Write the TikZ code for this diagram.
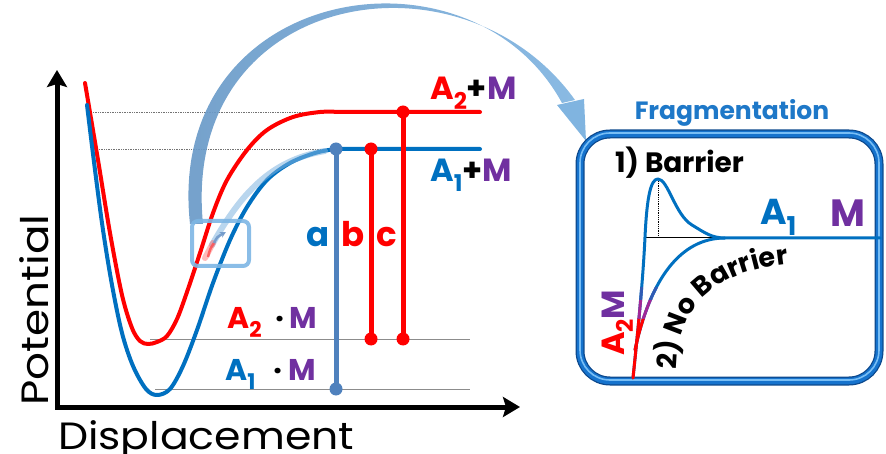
\documentclass[tikz,border=0pt]{standalone}
\usepackage{fontspec}
\setmainfont{Poppins}
\usetikzlibrary{arrows.meta,decorations.text}
\definecolor{cred}{RGB}{255,0,0}
\definecolor{cblue}{RGB}{0,112,192}
\definecolor{csteel}{RGB}{79,129,189}
\definecolor{cpurple}{RGB}{112,48,160}
\definecolor{carcA}{RGB}{104,152,198}
\definecolor{carcB}{RGB}{128,180,224}
\definecolor{csmall}{RGB}{125,182,228}
\definecolor{cframe}{RGB}{22,115,205}
\definecolor{cframedark}{RGB}{12,72,140}
\definecolor{cframelight}{RGB}{120,190,245}
\definecolor{ctitle}{RGB}{30,120,200}
\definecolor{cmix}{RGB}{160,40,150}
\newcommand\fsz[1]{\fontsize{#1}{#1}\selectfont}
\newcommand\nbfont{\bfseries\fontsize{27}{27}\selectfont}
\newcommand\lowsub[1]{\raisebox{-0.3em}{\scalebox{0.72}{#1}}}
\tikzset{
  pcurve/.style={line width=4pt, line join=round, line cap=round},
  level/.style={black!45, line width=0.9pt},
  guide/.style={black!55, line width=0.7pt, densely dotted},
  trans/.style={line width=5pt},
  dotend/.style={radius=6.5},
  lbl/.style={font=\bfseries\fsz{32}, inner sep=0pt},
  boxcurve/.style={line width=3pt, line cap=round, line join=round},
}
\begin{document}
\begin{tikzpicture}[x=1pt,y=-1pt]
\useasboundingbox (0,0) rectangle (886,454);

% guides and levels
\draw[guide] (93,112) -- (320,112);
\draw[guide] (99,149) -- (336,149);
\draw[level] (150,339) -- (470,339);
\draw[level] (155,389) -- (470,389);

% big curved arrow
\shade[left color=carcA, right color=carcB, opacity=0.92]
  (190,224) .. controls (164,-16) and (470,-66) .. (562,103)
  -- (575,100) .. controls (462,-58) and (180,-10) .. (203,224) -- cycle;
\fill[carcB] (557,105) -- (584,99) -- (586,141) -- cycle;

% potential curves
\draw[cred, pcurve] plot[smooth, tension=0.55] coordinates {(85,83) (98,160) (110,233) (122,295) (132,328) (140,341) (148,344) (157,342) (167,336) (177,319) (187,292) (200,253) (213,213) (227,180) (247,150) (267,130) (293,117) (320,112) (340,112)} -- (480,112);
\draw[cblue, pcurve] plot[smooth, tension=0.55] coordinates {(87,105) (95,170) (103,230) (112,285) (122,333) (133,366) (146,389) (157,395) (170,389) (183,366) (197,330) (213,283) (230,240) (247,207) (267,180) (290,163) (315,153) (336,149) (350,149)} -- (480,149);

% ghost band and small box
\draw[carcB, opacity=0.55, line width=6pt, line cap=round] (212,245) .. controls (240,195) and (270,160) .. (325,151);
\draw[cred!60, opacity=0.45, line width=6pt, line cap=round] (205,258) -- (213,243);
\draw[csmall, line width=4pt, rounded corners=6pt, opacity=0.9] (192,221) rectangle (249,266);
\draw[cred!70, opacity=0.8, line width=2.5pt] (208,257) .. controls (210,249) .. (214,243);
\draw[csteel!80, opacity=0.9, line width=2.5pt, -{Stealth[length=6pt,width=6pt]}] (214,243) .. controls (217,237) .. (226,232);

% axes
\coordinate (yT) at (57,70);
\coordinate (O) at (57,407);
\coordinate (xT) at (520,407);
\draw[line width=5pt, {Stealth[length=17pt,width=20pt,inset=3pt]}-{Stealth[length=17pt,width=20pt,inset=3pt]}] (yT) -- (O) -- (xT);
\node[inner sep=0pt, anchor=base west, rotate=90] (ylab) at (48,406) {\fsz{38}\scalebox{1.15}[1]{Potential}};
\node[inner sep=0pt, anchor=base west] (xlab) at (58,449) {\fsz{38}\scalebox{1.12}[1]{Displacement}};

% transitions a, b, c
\coordinate (aT) at (336,149); \coordinate (aB) at (336,389);
\coordinate (bT) at (371,149); \coordinate (bB) at (371,339);
\coordinate (cT) at (403,112); \coordinate (cB) at (403,339);
\draw[csteel, trans] (aT) -- (aB);
\draw[cred, trans] (bT) -- (bB);
\draw[cred, trans] (cT) -- (cB);
\fill[csteel] (aT) circle[dotend]; \fill[csteel] (aB) circle[dotend];
\fill[cred] (bT) circle[dotend]; \fill[cred] (bB) circle[dotend];
\fill[cred] (cT) circle[dotend]; \fill[cred] (cB) circle[dotend];
\node[lbl, text=cblue, anchor=base] (la) at (318,247) {\fsz{34}a};
\node[lbl, text=cred, anchor=base] (lb) at (353,247) {\fsz{34}b};
\node[lbl, text=cred, anchor=base] (lc) at (387,247) {\fsz{34}c};

% state labels
\node[lbl, anchor=base west] (a2m) at (430,100) {\textcolor{cred}{A\lowsub{2}}+\textcolor{cpurple}{M}};
\node[lbl, anchor=base west] (a1m) at (430,182) {\textcolor{cblue}{A\lowsub{1}}+\textcolor{cpurple}{M}};
\node[lbl, anchor=base west, text=cred] (a2dA) at (227,328) {\fsz{30}A\lowsub{2}};
\node[lbl, anchor=base] (a2dD) at (280,328) {\fsz{30}·};
\node[lbl, anchor=base west, text=cpurple] (a2dM) at (289,328) {\fsz{30}M};
\node[lbl, anchor=base west, text=cblue] (a1dA) at (225,380) {\fsz{30}A\lowsub{1}};
\node[lbl, anchor=base] (a1dD) at (278,380) {\fsz{30}·};
\node[lbl, anchor=base west, text=cpurple] (a1dM) at (288,380) {\fsz{30}M};

% fragmentation panel
\node[lbl, text=ctitle, anchor=base] (ftitle) at (732,120) {\fsz{25}Fragmentation};
\draw[cframedark, line width=9pt, rounded corners=30pt] (580,134) rectangle (879,381);
\draw[cframe, line width=6.5pt, rounded corners=30pt] (580,134) rectangle (879,381);
\draw[cframelight, line width=1.6pt, rounded corners=30pt] (580,133) rectangle (879,380);

\node[lbl, anchor=base west] (barrier) at (615,173) {\fsz{28}1) Barrier};
\draw[black, line width=1pt] (645,238) -- (723,238);
\draw[black, line width=0.8pt, densely dotted] (658,181) -- (658,238);

\def\barpath{(633,378) .. controls (638,330) and (643,280) .. (645,237) .. controls (647,195) and (651,179) .. (658,179) .. controls (668,179) and (675,215) .. (692,225) .. controls (705,233) and (712,238) .. (725,238) -- (880,238)}
\def\nobarpath{(635,350) .. controls (650,280) and (680,238) .. (725,238)}
\draw[cblue, boxcurve] \barpath;
\draw[cblue, boxcurve] \nobarpath;
\begin{scope}
  \clip (600,318) rectangle (700,379);
  \draw[cred, boxcurve] \barpath;
  \draw[cred, boxcurve] \nobarpath;
\end{scope}
\begin{scope}
  \clip (600,300) rectangle (700,318);
  \draw[cmix, boxcurve] \barpath;
  \draw[cmix, boxcurve] \nobarpath;
\end{scope}
\begin{scope}
  \clip (600,288) rectangle (700,300);
  \draw[cblue!70!cmix, boxcurve] \barpath;
  \draw[cblue!70!cmix, boxcurve] \nobarpath;
\end{scope}

\node[lbl, text=cblue, anchor=base west] (boxA) at (760,225) {\fsz{36}A\lowsub{1}};
\node[lbl, text=cpurple, anchor=base west] (boxM) at (830,227) {\fsz{38}M};
\node[lbl, anchor=base west, rotate=90] (boxA2M) at (624,356) {\fsz{32}\textcolor{cred}{A\lowsub{2}}\textcolor{cpurple}{M}};
\path[decorate, decoration={text along path, text={|\nbfont|2) No Barrier}, text align={left}}]
  (677,370) .. controls (678,300) and (720,266) .. (810,262);
\end{tikzpicture}
\end{document}
